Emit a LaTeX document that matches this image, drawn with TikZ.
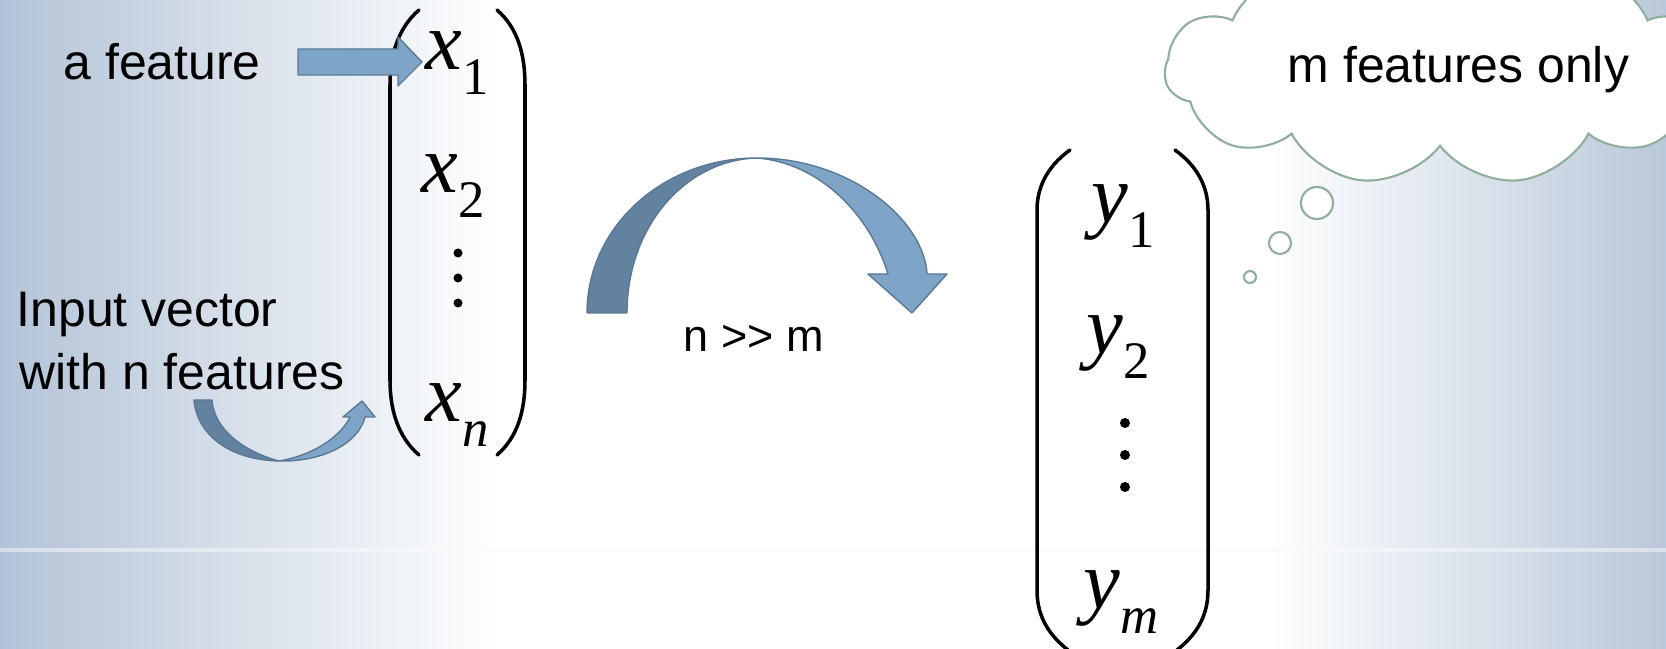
\documentclass[tikz,border=0pt]{standalone}
\usepackage{fontspec}
\setmainfont{Liberation Sans}
\newfontfamily\timesfont{Liberation Serif}
\usetikzlibrary{positioning,shapes.symbols}
\definecolor{bgblue}{HTML}{B3C3D7}
\definecolor{banddark}{HTML}{62829F}
\definecolor{bandlight}{HTML}{7EA5C8}
\definecolor{bandedge}{HTML}{5A7896}
\definecolor{puffline}{HTML}{8FAE9C}
\pgfdeclarehorizontalshading{slidebg}{100bp}{color(0bp)=(bgblue); color(25bp)=(bgblue);
  color(40bp)=(white); color(63bp)=(white); color(75bp)=(bgblue!92); color(100bp)=(bgblue!92)}
\newcommand{\vecent}[2]{{\itshape #1}\raisebox{-0.3em}{\fontsize{15pt}{16pt}\selectfont #2}}
\tikzset{
  lbl/.style   ={inner sep=0pt,font=\fontsize{14.2pt}{17pt}\selectfont},
  small/.style ={inner sep=0pt,font=\fontsize{12.8pt}{15pt}\selectfont},
  entry/.style ={inner sep=0pt,font=\timesfont\fontsize{23.5pt}{25pt}\selectfont},
  paren/.style ={line width=1pt,line cap=round},
  dark/.style  ={fill=banddark,draw=bandedge,line width=0.4pt,line join=round},
  light/.style ={fill=bandlight,draw=bandedge,line width=0.4pt,line join=round},
  puff/.style  ={draw=puffline,line width=0.6pt,fill=white}
}
\begin{document}
\begin{tikzpicture}[x=0.01cm,y=-0.01cm]
  \useasboundingbox (0,0) rectangle (1666,649);
  \shade[shading=slidebg] (0,0) rectangle (1666,649);
  \draw[white!92!bgblue,line width=1pt,opacity=0.5] (0,550) -- (1666,550);
  \begin{scope}
    \clip (0,0) rectangle (1666,649);
    % thought cloud
    \node[cloud,puff,cloud puffs=11,cloud puff arc=115,aspect=2.5,
          minimum width=5.5cm,minimum height=2.3cm] (thought) at (1440,70) {};
    \draw[puff] (1317,203) circle[radius=0.16cm];
    \draw[puff] (1280,243) circle[radius=0.11cm];
    \draw[puff] (1250,277) circle[radius=0.06cm];
  \end{scope}
  \node[lbl,anchor=base west] (mfeat) at (1287,83) {m features only};

  % labels on the left
  \node[lbl,anchor=base west] (feat) at (63,80) {a feature};
  \node[lbl,anchor=base west] (input) at (16,327) {Input vector};
  \node[lbl,anchor=base west] (withn) at (19,390) {with n features};

  % input vector
  \draw[paren] (419,10) .. controls (398,28) and (390,55) .. (390,85) -- (390,380)
    .. controls (390,410) and (398,437) .. (419,455);
  \draw[paren] (497,10) .. controls (518,28) and (525,55) .. (525,85) -- (525,380)
    .. controls (525,410) and (518,437) .. (497,455);
  \node[entry,anchor=base west] (x1) at (425,70) {\vecent{x}{1}};
  \node[entry,anchor=base west] (x2) at (421,193) {\vecent{x}{2}};
  \node[entry,anchor=base west] (xn) at (425,422) {\vecent{x}{\itshape n}};
  \foreach \d in {253,278,303} \fill (458,\d) circle[radius=0.045cm];

  % reduced vector
  \draw[paren] (1070,150) .. controls (1045,168) and (1037,190) .. (1037,210) -- (1037,590)
    .. controls (1037,612) and (1045,632) .. (1068,650);
  \draw[paren] (1175,150) .. controls (1200,168) and (1208,190) .. (1208,210) -- (1208,590)
    .. controls (1208,612) and (1200,632) .. (1177,650);
  \node[entry,anchor=base west] (y1) at (1091,223) {\vecent{y}{1}};
  \node[entry,anchor=base west] (y2) at (1086,354) {\vecent{y}{2}};
  \node[entry,anchor=base west] (ym) at (1083,609) {\vecent{y}{\itshape m}};
  \foreach \d in {423,455,487} \fill (1125,\d) circle[radius=0.05cm];

  % block arrows
  \draw[light] (298,49) -- (398,49) -- (398,37) -- (422,62) -- (398,86) -- (398,75)
    -- (298,75) -- cycle;
  \draw[dark] (194,400) .. controls (197,435) and (230,460) .. (279,461)
    .. controls (245,452) and (214,430) .. (212,400) -- cycle;
  \draw[light] (279,461) .. controls (320,462) and (358,445) .. (365,417) -- (375,417)
    -- (362,401) -- (343,417) -- (350,417) .. controls (342,435) and (315,455) .. (279,461) -- cycle;
  \draw[dark] (587,313) .. controls (587,227) and (663,158) .. (757,158)
    .. controls (685,160) and (627,227) .. (627,313) -- cycle;
  \draw[light] (757,158) .. controls (850,158) and (924,220) .. (927,274) -- (947,274)
    -- (912,313) -- (868,274) -- (888,274) .. controls (870,215) and (820,163) .. (757,158) -- cycle;
  \node[small,anchor=base] (ratio) at (754,352) {n >{}> m};
\end{tikzpicture}
\end{document}
